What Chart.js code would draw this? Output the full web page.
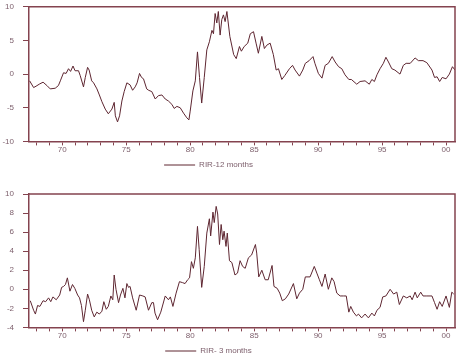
<!DOCTYPE html>
<html>
<head>
<meta charset="utf-8">
<script src="https://cdn.jsdelivr.net/npm/chart.js@4"></script>
<style>
  body { margin: 0; background: #fff; width: 458px; height: 355px; overflow: hidden; }
  canvas { display: block; }
  #grafico12 { margin-top: -7px; }
</style>
</head>
<body>
<canvas id="grafico12" width="458" height="186"></canvas>
<canvas id="grafico3" width="458" height="186"></canvas>
<script>
// decimal years and values
const t12 = [1967.45, 1967.76, 1967.95, 1968.2, 1968.5, 1968.8, 1969.06, 1969.45, 1969.7, 1969.85,
  1970.1, 1970.3, 1970.49, 1970.65, 1970.84, 1971.0, 1971.27, 1971.4, 1971.66, 1971.8,
  1971.98, 1972.1, 1972.3, 1972.45, 1972.71, 1972.9, 1973.1, 1973.36, 1973.6, 1973.88,
  1974.06, 1974.15, 1974.32, 1974.48, 1974.66, 1974.84, 1975.05, 1975.3, 1975.5, 1975.7,
  1975.85, 1976.04, 1976.2, 1976.35, 1976.6, 1976.75, 1977.0, 1977.27, 1977.52, 1977.79,
  1978.05, 1978.3, 1978.57, 1978.75, 1978.96, 1979.22, 1979.48, 1979.74, 1979.9, 1980.0,
  1980.21, 1980.4, 1980.57, 1980.73, 1980.9, 1981.1, 1981.3, 1981.5, 1981.7, 1981.82,
  1981.95, 1982.08, 1982.2, 1982.34, 1982.47, 1982.6, 1982.73, 1982.87, 1983.1, 1983.4,
  1983.6, 1983.85, 1984.0, 1984.22, 1984.5, 1984.7, 1984.95, 1985.15, 1985.33, 1985.6,
  1985.8, 1985.99, 1986.25, 1986.5, 1986.72, 1986.9, 1987.16, 1987.4, 1987.76, 1988.0,
  1988.2, 1988.54, 1988.8, 1989.0, 1989.3, 1989.6, 1989.75, 1990.02, 1990.3, 1990.55,
  1990.8, 1991.1, 1991.33, 1991.6, 1991.85, 1992.1, 1992.4, 1992.6, 1993.02, 1993.28,
  1993.67, 1994.0, 1994.2, 1994.4, 1994.6, 1994.84, 1995.1, 1995.3, 1995.5, 1995.76,
  1996.0, 1996.4, 1996.66, 1996.88, 1997.2, 1997.58, 1997.84, 1998.2, 1998.5, 1998.9,
  1999.1, 1999.3, 1999.5, 1999.7, 2000.0, 2000.26, 2000.5, 2000.7];
const rir12 = [-1.0, -2.0, -1.8, -1.5, -1.2, -1.7, -2.2, -2.1, -1.7, -1.0,
  0.2, 0.1, 0.8, 0.4, 1.2, 0.5, 0.5, -0.2, -1.9, -0.5,
  1.0, 0.6, -1.0, -1.3, -2.2, -3.1, -4.1, -5.2, -5.9, -5.2,
  -4.2, -6.2, -7.1, -6.2, -4.0, -2.6, -1.3, -1.6, -2.4, -1.9,
  -1.3, 0.1, -0.5, -0.7, -2.2, -2.4, -2.6, -3.7, -3.2, -3.1,
  -3.7, -4.0, -4.5, -5.1, -4.8, -5.0, -5.8, -6.5, -6.8, -5.5,
  -2.5, -1.0, 3.3, -0.5, -4.3, -0.5, 3.6, 4.8, 6.5, 6.0,
  9.0, 7.6, 9.3, 5.8, 8.1, 8.8, 7.8, 9.3, 5.6, 2.9,
  2.3, 4.1, 3.4, 4.1, 4.6, 6.0, 6.3, 4.6, 3.1, 5.6,
  3.8, 4.3, 4.6, 2.9, 0.6, 0.8, -0.8, -0.2, 0.8, 1.3,
  0.6, -0.3, 0.6, 1.6, 2.0, 2.6, 1.6, 0.1, -0.6, 1.3,
  1.6, 2.6, 1.8, 1.1, 0.8, -0.1, -0.8, -0.8, -1.5, -1.1,
  -1.0, -1.5, -0.8, -1.1, -0.1, 0.8, 1.6, 2.5, 1.8, 0.8,
  0.6, 0.0, 1.3, 1.6, 1.6, 2.4, 2.0, 2.0, 1.7, 0.6,
  -0.5, -0.4, -1.1, -0.5, -0.7, 0.0, 1.1, 0.6];

const t3 = [1967.5, 1967.76, 1967.9, 1968.07, 1968.25, 1968.5, 1968.7, 1968.93, 1969.1, 1969.27,
  1969.53, 1969.8, 1969.95, 1970.1, 1970.25, 1970.4, 1970.6, 1970.8, 1970.98, 1971.2,
  1971.35, 1971.5, 1971.66, 1971.8, 1971.98, 1972.12, 1972.3, 1972.5, 1972.7, 1972.9,
  1973.1, 1973.25, 1973.44, 1973.6, 1973.8, 1973.95, 1974.06, 1974.2, 1974.4, 1974.55,
  1974.74, 1974.9, 1975.05, 1975.18, 1975.3, 1975.5, 1975.78, 1976.04, 1976.3, 1976.48,
  1976.74, 1977.0, 1977.13, 1977.25, 1977.45, 1977.7, 1978.05, 1978.3, 1978.45, 1978.65,
  1978.9, 1979.16, 1979.4, 1979.6, 1979.8, 1979.95, 1980.1, 1980.25, 1980.4, 1980.57,
  1980.7, 1980.9, 1981.1, 1981.3, 1981.5, 1981.6, 1981.78, 1981.88, 1982.03, 1982.15,
  1982.29, 1982.42, 1982.55, 1982.65, 1982.8, 1982.9, 1983.07, 1983.26, 1983.5, 1983.7,
  1983.9, 1984.1, 1984.3, 1984.55, 1984.8, 1985.1, 1985.2, 1985.36, 1985.6, 1985.86,
  1986.1, 1986.4, 1986.55, 1986.8, 1987.0, 1987.2, 1987.44, 1987.7, 1988.07, 1988.33,
  1988.54, 1988.8, 1989.0, 1989.37, 1989.7, 1989.9, 1990.1, 1990.3, 1990.55, 1990.8,
  1991.07, 1991.25, 1991.46, 1991.72, 1991.97, 1992.2, 1992.4, 1992.55, 1992.76, 1993.0,
  1993.15, 1993.4, 1993.67, 1993.93, 1994.2, 1994.4, 1994.6, 1994.84, 1995.05, 1995.3,
  1995.63, 1995.9, 1996.15, 1996.35, 1996.66, 1996.93, 1997.2, 1997.35, 1997.58, 1997.75,
  1998.02, 1998.2, 1998.5, 1998.9, 1999.1, 1999.3, 1999.5, 1999.7, 2000.0, 2000.26,
  2000.45, 2000.6];
const rir3 = [-1.2, -2.2, -2.6, -1.7, -1.8, -1.2, -1.3, -0.9, -1.3, -0.8,
  -1.1, -0.6, 0.2, 0.3, 0.5, 1.2, -0.2, 0.5, 0.1, -0.6,
  -0.9, -1.7, -3.4, -2.2, -0.5, -1.1, -2.2, -2.9, -2.4, -2.6,
  -2.3, -1.3, -2.1, -1.8, -0.7, -1.1, 1.5, 0.0, -1.4, -0.6,
  0.1, -0.9, 0.6, 0.2, 0.3, -0.9, -2.2, -0.6, -0.7, -0.8,
  -2.2, -1.4, -1.4, -2.5, -3.2, -2.4, -0.7, -1.1, -0.8, -1.8,
  -0.4, 0.8, 0.7, 0.6, 1.0, 1.2, 2.9, 2.2, 3.3, 6.6,
  4.2, 0.2, 2.4, 5.9, 7.4, 5.6, 8.1, 7.0, 8.7, 7.9,
  4.7, 6.8, 5.2, 6.1, 4.5, 5.9, 3.0, 2.8, 1.5, 1.7,
  3.0, 2.4, 2.2, 3.3, 3.6, 4.7, 3.8, 1.3, 2.0, 1.0,
  1.0, 2.5, 0.3, 0.1, -0.4, -1.2, -1.0, -0.5, 0.6, -1.0,
  -0.4, 0.0, 1.3, 1.3, 2.4, 1.7, 1.0, 0.3, 1.6, 0.0,
  1.2, 0.8, -0.4, -0.7, -0.7, -0.7, -2.4, -1.8, -2.4, -2.8,
  -2.6, -3.0, -2.6, -3.0, -2.5, -2.8, -2.2, -1.9, -0.8, -0.7,
  0.0, -0.5, -0.3, -1.6, -0.7, -0.9, -0.7, -1.1, -0.3, -0.9,
  -0.3, -0.7, -0.7, -0.7, -1.4, -2.1, -1.3, -1.8, -0.7, -1.9,
  -0.3, -0.5];

const yTicks12 = [-10, 10, 5];
const yTicks3 = [-4, 10, 2];

const corEixo = '#84434f';
const corLinha = '#5e2631';
const corTexto = '#7d5f6c';

Chart.defaults.font.family = '"Liberation Sans", Arial, sans-serif';
Chart.defaults.font.size = 8;
Chart.defaults.color = corTexto;

// top and right sides of the frame
const moldura = {
  id: 'moldura',
  afterDraw(chart) {
    const a = chart.chartArea, c = chart.ctx;
    c.save();
    c.strokeStyle = corEixo;
    c.lineWidth = 1.5;
    c.beginPath();
    c.moveTo(a.left, a.top);
    c.lineTo(a.right, a.top);
    c.lineTo(a.right, a.bottom);
    c.stroke();
    c.restore();
  }
};

// the legend sits a little left of centre in the original
const legendaEsquerda = {
  id: 'legendaEsquerda',
  afterLayout(chart) {
    chart.legend.left -= 38;
  }
};

function grafico(id, tempos, valores, nome, ticksY, pad) {
  const ctx = document.getElementById(id).getContext('2d');
  return new Chart(ctx, {
    type: 'line',
    data: {
      datasets: [{
        label: nome,
        data: tempos.map((t, i) => ({ x: t, y: valores[i] })),
        borderColor: corLinha,
        backgroundColor: corLinha,
        borderWidth: 1,
        pointRadius: 0,
        tension: 0
      }]
    },
    options: {
      responsive: false,
      animation: false,
      layout: { padding: pad },
      plugins: {
        tooltip: { enabled: false },
        legend: {
          position: 'bottom',
          labels: {
            usePointStyle: true,
            pointStyle: 'line',
            pointStyleWidth: 31,
            boxHeight: 6,
            padding: 6,
            color: corTexto,
            font: { size: 8 }
          }
        }
      },
      scales: {
        x: {
          type: 'linear',
          min: 1967.4,
          max: 2000.7,
          border: { color: corEixo, width: 1.5 },
          grid: { drawOnChartArea: false, color: corEixo, tickLength: 4 },
          ticks: {
            stepSize: 1,
            autoSkip: false,
            maxRotation: 0,
            includeBounds: false,
            padding: 0,
            callback: (v) => v % 5 === 0 ? String(v % 100).padStart(2, '0') : ''
          }
        },
        y: {
          min: ticksY[0],
          max: ticksY[1],
          border: { color: corEixo, width: 1.5 },
          grid: { drawOnChartArea: false, color: corEixo, tickLength: 6 },
          ticks: { stepSize: ticksY[2], padding: 9 },
          afterFit: (s) => { s.width = 29; }
        }
      }
    },
    plugins: [moldura, legendaEsquerda]
  });
}

grafico('grafico12', t12, rir12, 'RIR-12 months', yTicks12, { top: 0, right: 3, bottom: 0, left: 0 });
grafico('grafico3', t3, rir3, 'RIR- 3 months', yTicks3, { top: 15, right: 3, bottom: 0, left: 0 });
</script>
</body>
</html>
